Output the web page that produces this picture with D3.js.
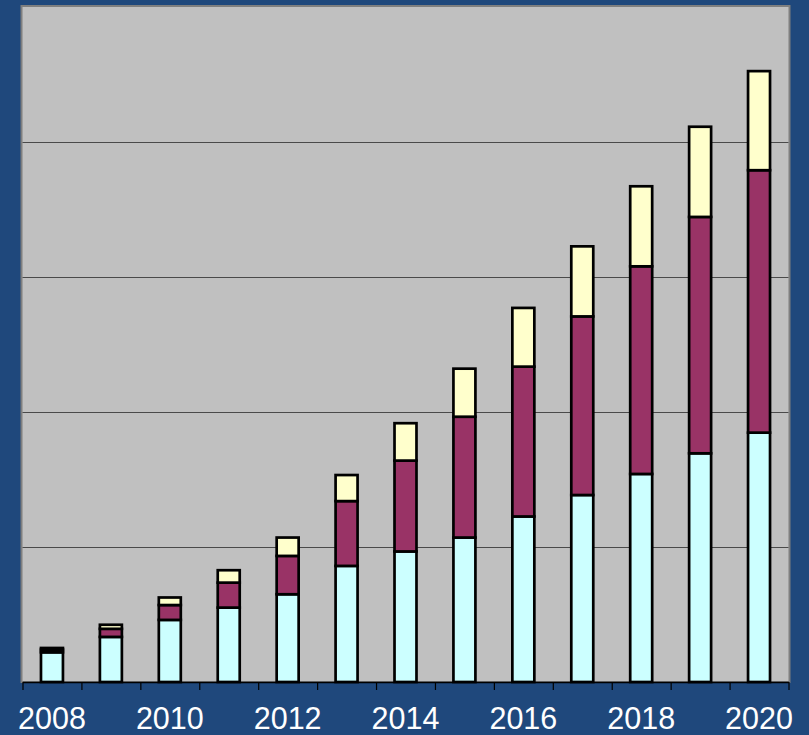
<!DOCTYPE html>
<html>
<head>
<meta charset="utf-8">
<script src="https://cdn.jsdelivr.net/npm/d3@7"></script>
<style>
  html, body { margin: 0; padding: 0; background: #1f487c; }
  svg { display: block; }
</style>
</head>
<body>
<div id="chartArea"></div>
<script>
// data
const years = [2008, 2009, 2010, 2011, 2012, 2013, 2014, 2015, 2016, 2017, 2018, 2019, 2020];
const seriesA = [0.22, 0.334, 0.46, 0.551, 0.65, 0.86, 0.967, 1.07, 1.226, 1.385, 1.541, 1.694, 1.847]; // cyan
const seriesB = [0.02, 0.06, 0.11, 0.185, 0.284, 0.48, 0.673, 0.895, 1.11, 1.323, 1.538, 1.751, 1.944]; // maroon
const seriesC = [0.012, 0.03, 0.056, 0.092, 0.136, 0.193, 0.277, 0.356, 0.435, 0.519, 0.593, 0.668, 0.734]; // yellow
const yTicks = [0, 1, 2, 3, 4, 5];
const labelYears = [2008, 2010, 2012, 2014, 2016, 2018, 2020];

// colours
const bg = "#1f487c";
const plotGrey = "#c0c0c0";
const colors = ["#ccffff", "#993366", "#ffffcc"];

const W = 809, H = 735;
const mLeft = 22.5, mRight = 788.5, mTop = 7, mBottom = 682;

const svg = d3.select("#chartArea").append("svg")
  .attr("width", W)
  .attr("height", H);

svg.append("rect")
  .attr("width", W).attr("height", H)
  .attr("fill", bg);

const x = d3.scaleBand()
  .domain(years)
  .range([mLeft, mRight])
  .paddingInner(0.627)
  .paddingOuter(0.3135);

const xEdge = d3.scaleLinear()
  .domain([years[0] - 0.5, years[years.length - 1] + 0.5])
  .range([mLeft, mRight]);

const y = d3.scaleLinear()
  .domain([0, 5])
  .range([mBottom, mTop]);

// plot area
svg.append("rect")
  .attr("x", mLeft - 1).attr("y", mTop - 1)
  .attr("width", mRight - mLeft + 2).attr("height", mBottom - mTop + 1)
  .attr("fill", plotGrey)
  .attr("stroke", "#7f7f7f")
  .attr("stroke-width", 2);

// gridlines
svg.append("g")
  .selectAll("line")
  .data(yTicks.slice(1, -1))
  .enter()
  .append("line")
    .attr("x1", mLeft).attr("x2", mRight)
    .attr("y1", d => Math.round(y(d)) + 0.5)
    .attr("y2", d => Math.round(y(d)) + 0.5)
    .attr("stroke", "#4a4a4a")
    .attr("stroke-width", 1);

// stacked bars
const table = years.map((yr, i) => ({ year: yr, a: seriesA[i], b: seriesB[i], c: seriesC[i] }));
const stack = d3.stack().keys(["a", "b", "c"]);
const layers = stack(table);

svg.append("g")
  .selectAll("g")
  .data(layers)
  .enter()
  .append("g")
    .attr("fill", (d, i) => colors[i])
  .selectAll("rect")
  .data(d => d)
  .enter()
  .append("rect")
    .attr("x", d => x(d.data.year))
    .attr("y", d => y(d[1]))
    .attr("width", x.bandwidth())
    .attr("height", d => y(d[0]) - y(d[1]))
    .attr("stroke", "black")
    .attr("stroke-width", 2.7);

// axis line + tick marks at category edges
const tickAxis = d3.axisBottom(xEdge)
  .tickValues(d3.range(years[0] - 0.5, years[years.length - 1] + 1, 1))
  .tickFormat("")
  .tickSize(8)
  .tickSizeOuter(0);

const axG = svg.append("g")
  .attr("transform", `translate(0,${mBottom})`)
  .call(tickAxis);
axG.select(".domain").attr("stroke", "black").attr("stroke-width", 1.5);
axG.selectAll(".tick line").attr("stroke", "black").attr("stroke-width", 1.2);

// year labels
const labAxis = d3.axisBottom(x)
  .tickValues(labelYears)
  .tickSize(0)
  .tickPadding(0);

const labG = svg.append("g")
  .attr("transform", `translate(0,${mBottom})`)
  .call(labAxis);
labG.select(".domain").remove();
labG.selectAll("text")
  .attr("y", 46.5)
  .attr("dy", null)
  .attr("fill", "white")
  .attr("font-family", "Liberation Sans, Arial, sans-serif")
  .attr("font-size", "30.5px");
</script>
</body>
</html>
